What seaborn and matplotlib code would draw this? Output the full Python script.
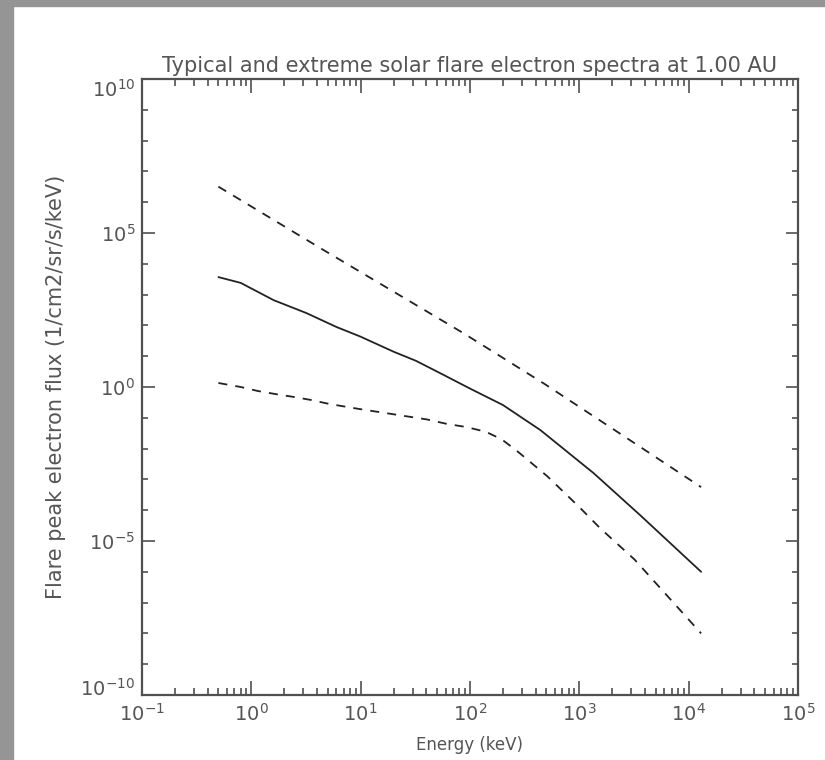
import matplotlib
matplotlib.use("Agg")
import matplotlib.pyplot as plt
import matplotlib.ticker as mticker
import matplotlib.transforms as mtransforms
from matplotlib.patches import Rectangle
import numpy as np
import pandas as pd
import seaborn as sns

# ---------------- data ----------------
typical_energy = [0.5, 0.8, 1.6, 3.2, 6.0, 10, 20, 32, 53, 100, 200, 440, 1350, 3600, 13000]
typical_flux = [3.7e3, 2.4e3, 6.6e2, 2.5e2, 8.9e1, 4.3e1, 1.4e1, 7.1, 2.85, 0.89, 0.26,
                0.040, 1.6e-3, 6.9e-5, 1.0e-6]

low_energy = [0.5, 0.8, 1.15, 1.66, 2.4, 3.5, 5.2, 10, 20, 40, 62, 93, 140, 195, 270,
              510, 1000, 1550, 3200, 13000]
low_flux = [1.35, 1.0, 0.74, 0.59, 0.48, 0.38, 0.28, 0.19, 0.13, 0.089, 0.063, 0.050,
            0.035, 0.020, 8.3e-3, 1.26e-3, 1.26e-4, 2.6e-5, 2.5e-6, 1.0e-8]

high_energy = [0.5, 4.5, 87, 480, 3400, 13000]
high_flux = [3.2e6, 2.9e4, 56, 1.26, 1.3e-2, 5.6e-4]

title = "Typical and extreme solar flare electron spectra at 1.00 AU"
xlabel = "Energy (keV)"
ylabel = "Flare peak electron flux (1/cm2/sr/s/keV)"
x_major = [1e-1, 1e0, 1e1, 1e2, 1e3, 1e4, 1e5]
y_major = [1e-10, 1e-5, 1e0, 1e5, 1e10]
y_minor = [10.0 ** k for k in range(-10, 11)]

# ---------------- style ----------------
sns.set_style("ticks")
plt.rcParams["font.family"] = ["DejaVu Sans"]
plt.rcParams["mathtext.default"] = "regular"

TXT = "#555555"
AX = "#505050"
LINE = "#222222"

fig = plt.figure(figsize=(8.25, 7.6), dpi=100)
fig.patch.set_facecolor("white")
fig.patches.append(Rectangle((0, 0), 13 / 825, 1, transform=fig.transFigure,
                             color="#959595", zorder=-10))
fig.patches.append(Rectangle((0, 1 - 6 / 760), 1, 6 / 760, transform=fig.transFigure,
                             color="#959595", zorder=-10))

ax = fig.add_axes([142 / 825, 65 / 760, 656 / 825, 616 / 760])

df_t = pd.DataFrame({"E": typical_energy, "F": typical_flux})
df_l = pd.DataFrame({"E": low_energy, "F": low_flux})
df_h = pd.DataFrame({"E": high_energy, "F": high_flux})

sns.lineplot(data=df_t, x="E", y="F", ax=ax, color=LINE, lw=1.3, sort=False)
sns.lineplot(data=df_h, x="E", y="F", ax=ax, color=LINE, lw=1.3, sort=False,
             linestyle=(0, (5, 4.5)))
sns.lineplot(data=df_l, x="E", y="F", ax=ax, color=LINE, lw=1.3, sort=False,
             linestyle=(0, (5, 4.5)))

ax.set_xscale("log")
ax.set_yscale("log")
ax.set_xlim(1e-1, 1e5)
ax.set_ylim(1e-10, 1e10)

ax.xaxis.set_major_locator(mticker.FixedLocator(x_major))
ax.xaxis.set_minor_locator(mticker.LogLocator(base=10, subs=np.arange(2, 10), numticks=20))
ax.yaxis.set_major_locator(mticker.FixedLocator(y_major))
ax.yaxis.set_minor_locator(mticker.FixedLocator(y_minor))
ax.xaxis.set_minor_formatter(mticker.NullFormatter())
ax.yaxis.set_minor_formatter(mticker.NullFormatter())
ax.xaxis.set_major_formatter(mticker.LogFormatterMathtext())
ax.yaxis.set_major_formatter(mticker.LogFormatterMathtext())

ax.tick_params(which="both", direction="in", top=True, right=True, color=AX,
               labelcolor=TXT, labelsize=14, width=1.2)
ax.tick_params(axis="x", which="major", length=10, pad=6)
ax.tick_params(axis="x", which="minor", length=5)
ax.tick_params(axis="y", which="major", length=9, pad=5)
ax.tick_params(axis="y", which="minor", length=4)

for s in ax.spines.values():
    s.set_color(AX)
    s.set_linewidth(1.6)
    s.set_visible(True)

ax.set_xlabel(xlabel, fontsize=12, color=TXT, labelpad=8)
ax.set_ylabel(ylabel, fontsize=15, color=TXT, labelpad=10)
ax.set_title(title, fontsize=15, color=TXT, pad=5)

fig.canvas.draw()
ylabels = ax.yaxis.get_majorticklabels()
ylabels[0].set_transform(ylabels[0].get_transform() +
                         mtransforms.ScaledTranslation(0, 8 / 100, fig.dpi_scale_trans))
ylabels[-1].set_transform(ylabels[-1].get_transform() +
                          mtransforms.ScaledTranslation(0, -9 / 100, fig.dpi_scale_trans))

fig.savefig("out.png", dpi=100, facecolor="white")
